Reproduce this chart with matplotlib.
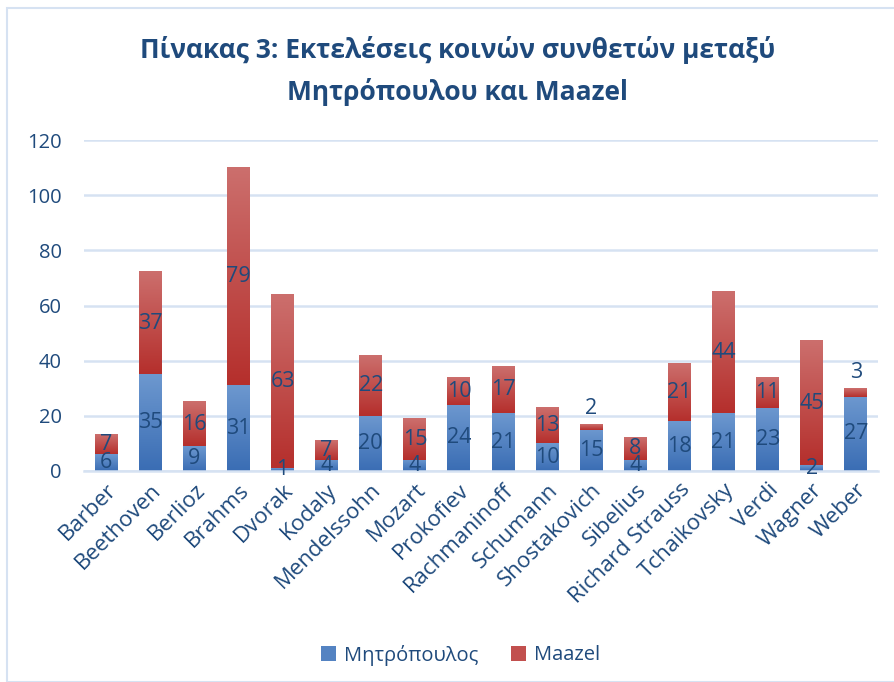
import numpy as np
import matplotlib
matplotlib.use("Agg")
import matplotlib.pyplot as plt
from matplotlib.colors import LinearSegmentedColormap
from matplotlib.patches import Rectangle, Patch

plt.rcParams['font.family'] = ['Open Sans', 'DejaVu Sans']

composers = ["Barber", "Beethoven", "Berlioz", "Brahms", "Dvorak", "Kodaly",
             "Mendelssohn", "Mozart", "Prokofiev", "Rachmaninoff", "Schumann",
             "Shostakovich", "Sibelius", "Richard Strauss", "Tchaikovsky",
             "Verdi", "Wagner", "Weber"]
mitropoulos = [6, 35, 9, 31, 1, 4, 20, 4, 24, 21, 10, 15, 4, 18, 21, 23, 2, 27]
maazel = [7, 37, 16, 79, 63, 7, 22, 15, 10, 17, 13, 2, 8, 21, 44, 11, 45, 3]
series_names = ["Μητρόπουλος", "Maazel"]
yticks = [0, 20, 40, 60, 80, 100, 120]

TXT = '#1f4a7c'
GRID = '#d6e2f2'
blue_top, blue_bot = '#6d98cf', '#3a6db4'
red_top, red_bot = '#cc6f6d', '#b52f2c'

W, H = 894, 682
fig = plt.figure(figsize=(W / 100, H / 100), dpi=100)

# outer chart border
fig.patches.append(Rectangle((7 / W, 0), 1.2, 1 - 8 / H, transform=fig.transFigure,
                             fill=False, edgecolor=GRID, linewidth=1.5, zorder=0))

ax = fig.add_axes([84 / W, 1 - 471 / H, (878 - 84) / W, (471 - 140) / H])

x = np.arange(len(composers))
bw = 0.52
b1 = ax.bar(x, mitropoulos, bw, color='none', label=series_names[0])
b2 = ax.bar(x, maazel, bw, bottom=mitropoulos, color='none', label=series_names[1])

cm_blue = LinearSegmentedColormap.from_list('b', [blue_bot, blue_top])
cm_red = LinearSegmentedColormap.from_list('r', [red_bot, red_top])
grad = np.linspace(1, 0, 256).reshape(-1, 1)
for bars, cmap in ((b1, cm_blue), (b2, cm_red)):
    for p in bars:
        x0, y0, w, h = p.get_x(), p.get_y(), p.get_width(), p.get_height()
        if h <= 0:
            continue
        ax.imshow(grad, extent=[x0, x0 + w, y0, y0 + h], cmap=cmap,
                  aspect='auto', origin='upper', zorder=2, interpolation='bilinear')

ax.set_xlim(-0.5, len(composers) - 0.5)
ax.set_ylim(0, 120)
ax.set_yticks(yticks)
ax.grid(axis='y', color=GRID, linewidth=1.8, zorder=0)
ax.set_axisbelow(True)
for s in ['top', 'right', 'left']:
    ax.spines[s].set_visible(False)
ax.spines['bottom'].set_color(GRID)
ax.spines['bottom'].set_linewidth(1.8)
ax.tick_params(axis='both', length=0, colors=TXT, labelsize=14.5)
ax.tick_params(axis='y', pad=16)
ax.set_xticks(x)
ax.set_xticklabels(composers, rotation=45, ha='right', va='top',
                   rotation_mode='anchor', fontsize=16, color=TXT)
ax.tick_params(axis='x', pad=6)

# data labels
for i in range(len(composers)):
    m, z = mitropoulos[i], maazel[i]
    ax.text(i, m / 2, str(m), ha='center', va='center', color=TXT,
            fontsize=15.5, zorder=5)
    if z < 4:
        ax.annotate(str(z), (i, m + z), xytext=(0, 4), textcoords='offset points',
                    ha='center', va='bottom', color=TXT, fontsize=15.5, zorder=5)
    else:
        ax.text(i, m + z / 2, str(z), ha='center', va='center', color=TXT,
                fontsize=15.5, zorder=5)

fig.text(0.512, 1 - 50 / H, "Πίνακας 3: Εκτελέσεις κοινών συνθετών μεταξύ",
         ha='center', va='center', fontsize=19, fontweight='bold', color=TXT)
fig.text(0.512, 1 - 92 / H, "Μητρόπουλου και Maazel",
         ha='center', va='center', fontsize=19, fontweight='bold', color=TXT)

handles = [Patch(facecolor='#5483c2', edgecolor='none'),
           Patch(facecolor='#c2504e', edgecolor='none')]
fig.legend(handles, series_names, loc='center', bbox_to_anchor=(0.515, 1 - 655 / H),
           ncol=2, frameon=False, fontsize=14.5, labelcolor=TXT,
           handlelength=0.75, handleheight=0.75, handletextpad=0.4, columnspacing=1.6)

fig.savefig('out.png', dpi=100)
